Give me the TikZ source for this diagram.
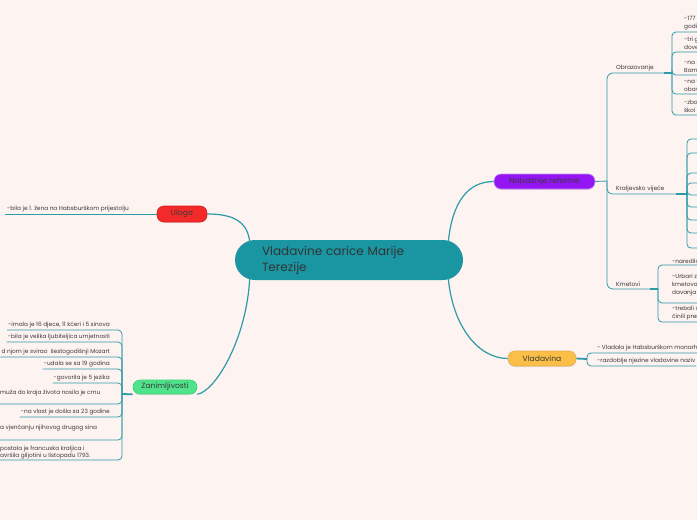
\documentclass[tikz,border=0pt]{standalone}
\usepackage{fontspec}
\setmainfont{Poppins}
\usetikzlibrary{calc,shadows}
\definecolor{bgc}{HTML}{FDF3F1}
\definecolor{cteal}{HTML}{1A96A2}
\definecolor{clink}{HTML}{2C9AA7}
\definecolor{cred}{HTML}{F42A2A}
\definecolor{credb}{HTML}{D81B1B}
\definecolor{cpur}{HTML}{9414F4}
\definecolor{cpurb}{HTML}{C48BF2}
\definecolor{cyel}{HTML}{FBBE46}
\definecolor{cyelb}{HTML}{E6AE52}
\definecolor{cgrn}{HTML}{4FE48B}
\definecolor{cgrnb}{HTML}{3ECF78}
\definecolor{ctxt}{HTML}{3A3A3A}
\begin{document}
\begin{tikzpicture}[x=1pt,y=-1pt,
  branch/.style={draw=clink, line width=0.8pt, rounded corners=4pt},
  mainlink/.style={draw=clink, line width=1.2pt},
  joint/.style={draw=clink, line width=1.8pt},
  item/.style={font=\fontsize{5.8}{7.8}\selectfont, text=ctxt, inner xsep=1pt, inner ysep=1.6pt, align=left},
  sublabel/.style={font=\fontsize{5.9}{6.5}\selectfont, text=ctxt, inner xsep=1pt, inner ysep=1.8pt},
  topic/.style={rounded corners=7pt, minimum height=15pt, font=\fontsize{7.6}{8.5}\selectfont, text=ctxt, line width=0.6pt, inner sep=0pt, drop shadow={opacity=0.18, shadow xshift=0pt, shadow yshift=-1pt}},
  centre/.style={fill=cteal, rounded corners=20pt, minimum width=228pt, minimum height=40pt, text width=178pt, inner xsep=25pt, inner ysep=0pt, align=left, font=\fontsize{12}{16}\selectfont, text=ctxt!90!black}]
\useasboundingbox (0,0) rectangle (697,520);
\clip (0,0) rectangle (697,520);
\fill[bgc] (0,0) rectangle (697,520);

% central node and main topics
\node[centre] (c) at (349,260) {\hspace*{2pt}Vladavine carice Marije\\\hspace*{2pt}Terezije};
\node[topic, fill=cred, draw=credb, minimum width=50pt, minimum height=16pt] (u) at (182,214) {Uloga};
\node[topic, fill=cpur, draw=cpurb, minimum width=101pt] (r) at (544.5,181.5) {Najvažnije reforme};
\node[topic, fill=cyel, draw=cyelb, minimum width=68pt] (v) at (542,358.5) {Vladavina};
\node[topic, fill=cgrn, draw=cgrnb, minimum width=64pt, minimum height=14pt] (z) at (165,387) {Zanimljivosti};

\draw[mainlink] ($(c.north west)+(15,3)$) .. controls +(-2,-22) and +(25,0) .. (u.east);
\draw[mainlink] ($(c.north east)+(-15,3)$) .. controls +(4,-42) and +(-25,0) .. (r.west);
\draw[mainlink] ($(c.south east)+(-15,-3)$) .. controls +(4,48) and +(-30,0) .. (v.west);
\draw[mainlink] ($(c.south west)+(15,-3)$) .. controls +(-3,62) and +(18,-3) .. (z.south east);

% Uloga
\node[item, anchor=south west, inner xsep=2pt] (u1) at (5,214) {-bila je 1. žena na Habsburškom prijestolju};
\draw[branch] (u.west) -- (u1.south west);

% Najvaznije reforme
\coordinate (rj) at (607,181);
\draw[branch] (r.east) -- (rj);
\coordinate (obj) at (672,73);
\coordinate (kvj) at (687,194);
\coordinate (kmj) at (658,289);
\node[sublabel, anchor=south west] (ob) at (615,73) {Obrazovanje};
\node[sublabel, anchor=south west] (kv) at (615,194) {Kraljevsko vijeće};
\node[sublabel, anchor=south west] (km) at (615,289) {Kmetovi};
\draw[branch, rounded corners=6pt] (rj) |- (obj);
\draw[branch, rounded corners=5pt] (rj) |- (kvj);
\draw[branch, rounded corners=6pt] (rj) |- (kmj);
\draw[joint] ($(obj)+(-8,0)$) -- (obj);
\draw[joint] ($(kvj)+(-11,0)$) -- (kvj);
\draw[joint] ($(kmj)+(-8,0)$) -- (kmj);

% Obrazovanje items
\node[item, anchor=south west, inner ysep=2.2pt] (o1) at (683,32) {-177\\godi};
\node[item, anchor=south west, inner ysep=2.2pt] (o2) at (683,52) {-tri g\\dove};
\node[item, anchor=south west, inner ysep=2.2pt] (o3) at (683,75) {-na r\\Bam};
\node[item, anchor=south west, inner ysep=2.2pt] (o4) at (683,94) {-na v\\obav};
\node[item, anchor=south west, inner ysep=2.2pt] (o5) at (683,115) {-zbo\\škol};
\foreach \n in {o1,o2,o3,o4,o5} \draw[branch] (obj) |- (\n.south west) -- (\n.south east);

% Kraljevsko vijece items (text beyond the edge)
\foreach \y [count=\i] in {139,153,173,183,195,207,220,233,248} {
  \coordinate (k\i) at (705,\y);
  \draw[branch] (kvj) |- (k\i);
}

% Kmetovi items
\node[item, anchor=south west] (m1) at (671,265) {-naredila};
\node[item, anchor=south west] (m2) at (671,303) {-Urbari z\\kmetova\\davanja\\[-1pt]};
\node[item, anchor=south west] (m3) at (671,322) {-trebali s\\činili prem};
\foreach \n in {m1,m2,m3} \draw[branch] (kmj) |- (\n.south west) -- (\n.south east);

% Vladavina items
\coordinate (vj) at (587,359);
\draw[joint] (v.east) -- (vj);
\node[item, anchor=south west] (v1) at (596,353) {- Vladala je Habsburškom monarh};
\node[item, anchor=south west] (v2) at (596,366) {-razdoblje njezine vladavine naziv};
\foreach \n in {v1,v2} \draw[branch] (vj) |- (\n.south west) -- (\n.south east);

% Zanimljivosti items
\coordinate (zj) at (122,394);
\draw[joint] (z.south west) -- (zj);
\node[item, anchor=south east] (z1) at (111,330) {-imala je 16 djece, 11 kćeri i 5 sinova};
\node[item, anchor=south east] (z2) at (111,342) {-bila je velika ljubiteljica umjetnosti};
\node[item, anchor=south east] (z3) at (111,357) {d njom je svirao \ šestogodišnji Mozart};
\node[item, anchor=south east] (z4) at (111,369) {-udala se sa 19 godina};
\node[item, anchor=south east] (z5) at (111,383) {-govorila je 5 jezika};
\node[item, anchor=base west, inner xsep=0pt] (z6) at (0,394) {muža do kraja života nosila je crnu};
\coordinate (z6u) at (-3,404);
\node[item, anchor=south east] (z7) at (111,417) {-na vlast je došla sa 23 godine};
\node[item, anchor=base west, inner xsep=0pt] (z8) at (0,429) {a vjenčanju njihovog drugog sina};
\coordinate (z8u) at (-3,440);
\node[item, anchor=south west, inner xsep=0pt, inner ysep=1.2pt, font=\fontsize{5.8}{7}\selectfont] (z9) at (0,460) {postala je francuska kraljica i\\avršila giljotini u listopadu 1793.};
\coordinate (z9u) at (-3,460);
\foreach \n in {z1,z2,z3,z4,z5,z7} \draw[branch] (zj) |- (\n.south west);
\foreach \n in {z6u,z8u,z9u} \draw[branch] (zj) |- (\n);
\end{tikzpicture}
\end{document}
